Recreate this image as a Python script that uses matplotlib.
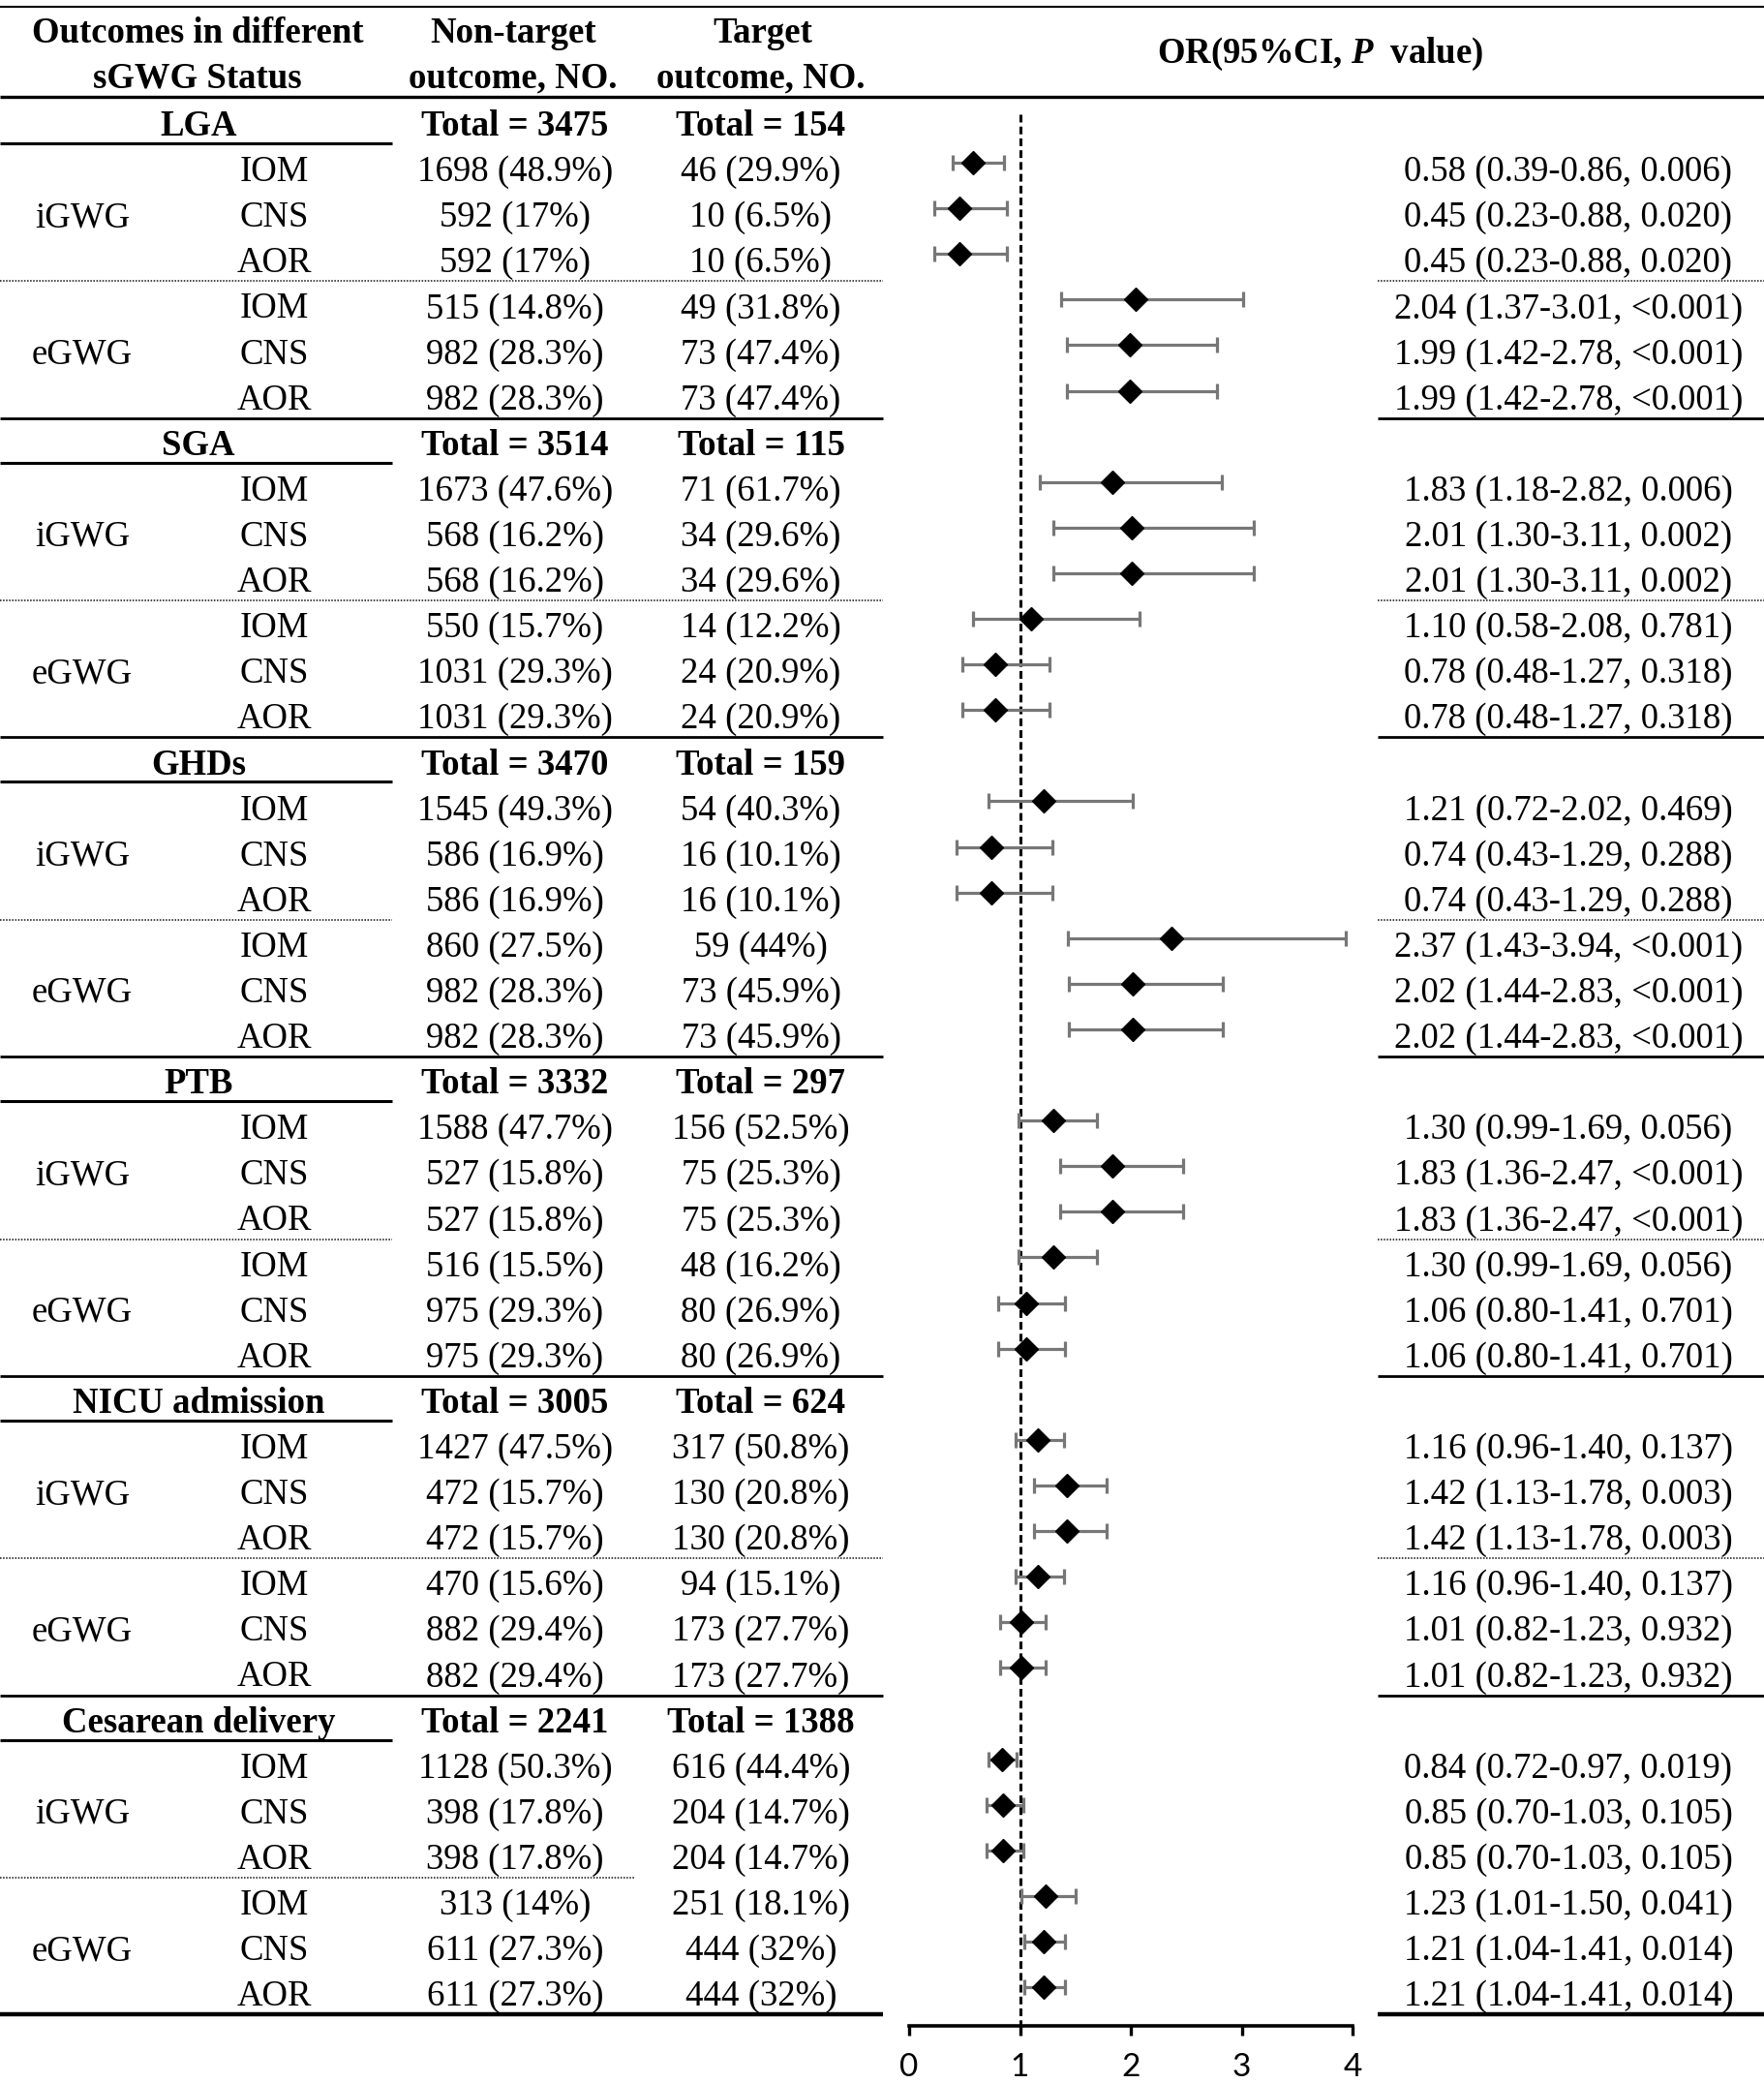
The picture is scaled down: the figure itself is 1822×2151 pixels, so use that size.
import matplotlib
matplotlib.use("Agg")
import matplotlib.pyplot as plt
import numpy as np

plt.rcParams['font.family'] = ['Liberation Serif', 'DejaVu Serif']
plt.rcParams['mathtext.fontset'] = 'custom'
plt.rcParams['mathtext.rm'] = 'Liberation Serif:bold'
plt.rcParams['mathtext.it'] = 'Liberation Serif:italic:bold'
plt.rcParams['mathtext.bf'] = 'Liberation Serif:bold'

# ---------------- data ----------------
outcomes = ["LGA", "SGA", "GHDs", "PTB", "NICU admission", "Cesarean delivery"]
status = ["iGWG", "eGWG"]
measures = ["IOM", "CNS", "AOR"]
total_nontarget = [3475, 3514, 3470, 3332, 3005, 2241]
total_target = [154, 115, 159, 297, 624, 1388]

nontarget_n = [
    [1698, 592, 592, 515, 982, 982],
    [1673, 568, 568, 550, 1031, 1031],
    [1545, 586, 586, 860, 982, 982],
    [1588, 527, 527, 516, 975, 975],
    [1427, 472, 472, 470, 882, 882],
    [1128, 398, 398, 313, 611, 611],
]
nontarget_pct = [
    ["48.9", "17", "17", "14.8", "28.3", "28.3"],
    ["47.6", "16.2", "16.2", "15.7", "29.3", "29.3"],
    ["49.3", "16.9", "16.9", "27.5", "28.3", "28.3"],
    ["47.7", "15.8", "15.8", "15.5", "29.3", "29.3"],
    ["47.5", "15.7", "15.7", "15.6", "29.4", "29.4"],
    ["50.3", "17.8", "17.8", "14", "27.3", "27.3"],
]
target_n = [
    [46, 10, 10, 49, 73, 73],
    [71, 34, 34, 14, 24, 24],
    [54, 16, 16, 59, 73, 73],
    [156, 75, 75, 48, 80, 80],
    [317, 130, 130, 94, 173, 173],
    [616, 204, 204, 251, 444, 444],
]
target_pct = [
    ["29.9", "6.5", "6.5", "31.8", "47.4", "47.4"],
    ["61.7", "29.6", "29.6", "12.2", "20.9", "20.9"],
    ["40.3", "10.1", "10.1", "44", "45.9", "45.9"],
    ["52.5", "25.3", "25.3", "16.2", "26.9", "26.9"],
    ["50.8", "20.8", "20.8", "15.1", "27.7", "27.7"],
    ["44.4", "14.7", "14.7", "18.1", "32", "32"],
]
odds_ratio = [
    [0.58, 0.45, 0.45, 2.04, 1.99, 1.99],
    [1.83, 2.01, 2.01, 1.10, 0.78, 0.78],
    [1.21, 0.74, 0.74, 2.37, 2.02, 2.02],
    [1.30, 1.83, 1.83, 1.30, 1.06, 1.06],
    [1.16, 1.42, 1.42, 1.16, 1.01, 1.01],
    [0.84, 0.85, 0.85, 1.23, 1.21, 1.21],
]
ci_low = [
    [0.39, 0.23, 0.23, 1.37, 1.42, 1.42],
    [1.18, 1.30, 1.30, 0.58, 0.48, 0.48],
    [0.72, 0.43, 0.43, 1.43, 1.44, 1.44],
    [0.99, 1.36, 1.36, 0.99, 0.80, 0.80],
    [0.96, 1.13, 1.13, 0.96, 0.82, 0.82],
    [0.72, 0.70, 0.70, 1.01, 1.04, 1.04],
]
ci_high = [
    [0.86, 0.88, 0.88, 3.01, 2.78, 2.78],
    [2.82, 3.11, 3.11, 2.08, 1.27, 1.27],
    [2.02, 1.29, 1.29, 3.94, 2.83, 2.83],
    [1.69, 2.47, 2.47, 1.69, 1.41, 1.41],
    [1.40, 1.78, 1.78, 1.40, 1.23, 1.23],
    [0.97, 1.03, 1.03, 1.50, 1.41, 1.41],
]
p_values = [
    ["0.006", "0.020", "0.020", "<0.001", "<0.001", "<0.001"],
    ["0.006", "0.002", "0.002", "0.781", "0.318", "0.318"],
    ["0.469", "0.288", "0.288", "<0.001", "<0.001", "<0.001"],
    ["0.056", "<0.001", "<0.001", "0.056", "0.701", "0.701"],
    ["0.137", "0.003", "0.003", "0.137", "0.932", "0.932"],
    ["0.019", "0.105", "0.105", "0.041", "0.014", "0.014"],
]
x_ticks = [0, 1, 2, 3, 4]

# ---------------- layout ----------------
W, H = 1822, 2151
Y0, DY = 128.0, 47.1          # pixel y of first row, row spacing


def py(y):
    return (y - Y0) / DY


R_TOP, R_BOT = py(0), py(H)
FS = 26.5
TOFF = 0.06   # small downward nudge of table text

fig = plt.figure(figsize=(W / 100, H / 100), dpi=100)
ax = fig.add_axes([0, 0, 1, 1])
ax.set_xlim(0, W)
ax.set_ylim(R_BOT, R_TOP)
ax.axis('off')

X_LABEL, X_STATUS, X_MEAS, X_NON, X_TGT, X_OR = 205, 85, 283, 532, 786, 1620

# header
ax.text(204, py(34), "Outcomes in different", ha='center', va='center', fontsize=FS, fontweight='bold')
ax.text(204, py(81), "sGWG Status", ha='center', va='center', fontsize=FS, fontweight='bold')
ax.text(530, py(34), "Non-target", ha='center', va='center', fontsize=FS, fontweight='bold')
ax.text(530, py(81), "outcome, NO.", ha='center', va='center', fontsize=FS, fontweight='bold')
ax.text(788, py(34), "Target", ha='center', va='center', fontsize=FS, fontweight='bold')
ax.text(786, py(81), "outcome, NO.", ha='center', va='center', fontsize=FS, fontweight='bold')
ax.text(1364, py(56), r"OR(95%CI, $\mathit{P}$  value)", ha='center', va='center',
        fontsize=FS, fontweight='bold')

ax.hlines(py(7), 0, W, color='black', lw=1.5)
ax.hlines(py(100), 0, W, color='black', lw=2.4)

dot_left_end = [912, 912, 405, 405, 912, 656]
dot_right = [True, True, True, True, True, False]

for s, name in enumerate(outcomes):
    r = 7 * s
    t = r + TOFF
    ax.text(X_LABEL, t, name, ha='center', va='center', fontsize=FS, fontweight='bold')
    ax.text(X_NON, t, f"Total = {total_nontarget[s]}", ha='center', va='center',
            fontsize=FS, fontweight='bold')
    ax.text(X_TGT, t, f"Total = {total_target[s]}", ha='center', va='center',
            fontsize=FS, fontweight='bold')
    ax.text(X_STATUS, t + 2, status[0], ha='center', va='center', fontsize=FS)
    ax.text(X_STATUS, t + 5, status[1], ha='center', va='center', fontsize=FS)
    for k in range(6):
        rr = t + 1 + k
        ax.text(X_MEAS, rr, measures[k % 3], ha='center', va='center', fontsize=FS)
        ax.text(X_NON, rr, f"{nontarget_n[s][k]} ({nontarget_pct[s][k]}%)",
                ha='center', va='center', fontsize=FS)
        ax.text(X_TGT, rr, f"{target_n[s][k]} ({target_pct[s][k]}%)",
                ha='center', va='center', fontsize=FS)
        ax.text(X_OR, rr, f"{odds_ratio[s][k]:.2f} ({ci_low[s][k]:.2f}-{ci_high[s][k]:.2f}, {p_values[s][k]})",
                ha='center', va='center', fontsize=FS)
    # rules
    ax.hlines(r + 0.425, 0, 405, color='black', lw=2.2)
    ax.hlines(r + 3.45, 0, dot_left_end[s], color='#444444', lw=1.4, linestyles=(0, (0.8, 0.8)))
    if dot_right[s]:
        ax.hlines(r + 3.45, 1423, W, color='#444444', lw=1.4, linestyles=(0, (0.8, 0.8)))
    lw_end = 3.2 if s == len(outcomes) - 1 else 2.0
    ax.hlines(r + 6.45, 0, 912, color='black', lw=lw_end)
    ax.hlines(r + 6.45, 1423, W, color='black', lw=lw_end)

# ---------------- forest plot ----------------
X0_PX, X4_PX = 939, 1397
axf = fig.add_axes([X0_PX / W, 0, (X4_PX - X0_PX) / W, 1])
axf.set_xlim(0, 4)
axf.set_ylim(R_BOT, R_TOP)
axf.patch.set_visible(False)
for sp in ['top', 'right', 'left']:
    axf.spines[sp].set_visible(False)
AXIS_R = py(2092)
axf.spines['bottom'].set_position(('data', AXIS_R))
axf.spines['bottom'].set_linewidth(2.6)
axf.set_yticks([])
axf.set_xticks(x_ticks)
axf.set_xticklabels([str(t) for t in x_ticks], fontfamily='Lato', fontsize=24)
axf.tick_params(axis='x', direction='out', length=7, width=2.4, pad=13)

orv = np.array(odds_ratio).ravel()
lov = np.array(ci_low).ravel()
hiv = np.array(ci_high).ravel()
rows = np.array([7 * s + 1 + k for s in range(len(outcomes)) for k in range(6)], dtype=float) - 0.15

axf.vlines(1, py(118), AXIS_R, color='black', lw=2.2, linestyles=(0, (2.6, 1.4)), zorder=1)
axf.errorbar(orv, rows, xerr=[orv - lov, hiv - orv], fmt='none', ecolor='#777777',
             elinewidth=2.3, capsize=5.8, capthick=2.3, zorder=2, clip_on=False)
axf.plot(orv, rows, 'D', color='black', ms=12.5, zorder=3, clip_on=False)

fig.savefig("out.png", dpi=100)
